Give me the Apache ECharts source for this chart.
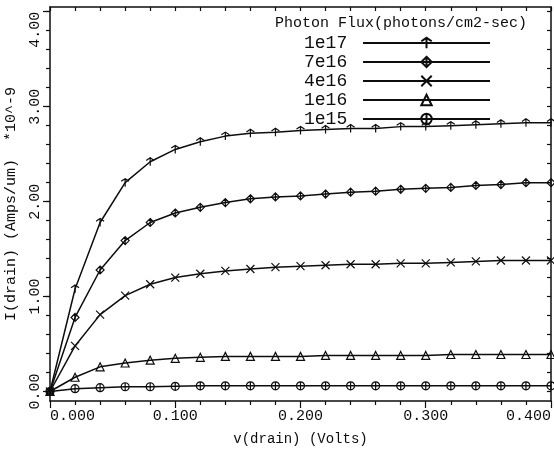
<!DOCTYPE html>
<html>
<head>
<meta charset="utf-8">
<script src="https://cdn.jsdelivr.net/npm/echarts@6/dist/echarts.min.js"></script>
<style>
html,body{margin:0;padding:0;background:#fff;}
#chart{width:554px;height:449px;}
</style>
</head>
<body>
<div id="chart"></div>
<script>
// ---- data ----
const vDrain = [0, 0.02, 0.04, 0.06, 0.08, 0.10, 0.12, 0.14, 0.16, 0.18, 0.20, 0.22, 0.24, 0.26, 0.28, 0.30, 0.32, 0.34, 0.36, 0.38, 0.40];
const seriesNames = ['1e17', '7e16', '4e16', '1e16', '1e15'];
const flux1e17 = [0, 1.08, 1.78, 2.20, 2.42, 2.55, 2.63, 2.69, 2.72, 2.73, 2.75, 2.76, 2.77, 2.77, 2.79, 2.79, 2.80, 2.81, 2.82, 2.83, 2.83];
const flux7e16 = [0, 0.78, 1.28, 1.59, 1.78, 1.88, 1.94, 1.99, 2.03, 2.05, 2.06, 2.08, 2.10, 2.11, 2.13, 2.14, 2.15, 2.17, 2.18, 2.20, 2.20];
const flux4e16 = [0, 0.48, 0.81, 1.01, 1.13, 1.20, 1.24, 1.27, 1.29, 1.31, 1.32, 1.33, 1.34, 1.34, 1.35, 1.35, 1.36, 1.37, 1.38, 1.38, 1.38];
const flux1e16 = [0, 0.15, 0.26, 0.30, 0.33, 0.35, 0.36, 0.37, 0.37, 0.37, 0.37, 0.38, 0.38, 0.38, 0.38, 0.38, 0.39, 0.39, 0.39, 0.39, 0.39];
const flux1e15 = [0, 0.03, 0.04, 0.05, 0.05, 0.055, 0.06, 0.06, 0.06, 0.06, 0.06, 0.06, 0.06, 0.06, 0.06, 0.06, 0.06, 0.06, 0.06, 0.06, 0.06];
const yMajorTicks = [0, 1, 2, 3, 4];
const yMinorTicks = [0, 0.2, 0.4, 0.6, 0.8, 1.0, 1.2, 1.4, 1.6, 1.8, 2.0, 2.2, 2.4, 2.6, 2.8, 3.0, 3.2, 3.4, 3.6, 3.8, 4.0];
const xAxisName = 'v(drain) (Volts)';
const yAxisName = 'I(drain) (Amps/um)  *10^-9';
const legendTitle = 'Photon Flux(photons/cm2-sec)';

// ---- styling ----
const INK = '#0d0d0d';
const FONT = '"Liberation Mono", "DejaVu Sans Mono", monospace';
const symbols = [
  'path://M5,12 L5,0 M1.5,4 L5,0 L8.5,4',
  'path://M5,0 L10,5 L5,10 L0,5 Z M5,0 L5,10',
  'path://M0,0 L10,10 M10,0 L0,10',
  'path://M5,0 L10,9 L0,9 Z',
  'path://M0,5 A5,5 0 1,1 10,5 A5,5 0 1,1 0,5 Z M5,0 L5,10'
];
const values = [flux1e17, flux7e16, flux4e16, flux1e16, flux1e15];

const series = seriesNames.map((name, i) => ({
  name: name,
  type: 'line',
  xAxisIndex: 0,
  yAxisIndex: 0,
  data: vDrain.map((v, k) => [v, values[i][k]]),
  symbol: symbols[i],
  symbolSize: 8,
  showAllSymbol: true,
  animation: false,
  lineStyle: { color: INK, width: 1.5 },
  itemStyle: { color: 'rgba(0,0,0,0)', borderColor: INK, borderWidth: 1.2 },
  emphasis: { disabled: true }
}));

const chart = echarts.init(document.getElementById('chart'), null, { renderer: 'canvas' });
chart.setOption({
  backgroundColor: '#ffffff',
  animation: false,
  title: {
    text: legendTitle,
    left: 275, top: 16, padding: 0,
    textStyle: { fontFamily: FONT, fontSize: 15, fontWeight: 'normal', color: INK }
  },
  legend: {
    data: seriesNames,
    orient: 'vertical',
    left: 304, top: 34, padding: 0,
    align: 'right',
    itemWidth: 127, itemHeight: 13, itemGap: 1,
    selectedMode: false,
    formatter: n => n + ' ',
    textStyle: { fontFamily: FONT, fontSize: 18, lineHeight: 18, color: INK }
  },
  grid: { left: 50, right: 3, top: 7, bottom: 48, outerBoundsMode: 'none', containLabel: false },
  xAxis: [
    {
      type: 'value', position: 'bottom', min: 0, max: 0.4, interval: 0.1,
      name: xAxisName, nameLocation: 'middle', nameGap: 31,
      nameTextStyle: { fontFamily: FONT, fontSize: 14, color: INK },
      axisLine: { show: true, onZero: false, lineStyle: { color: INK, width: 1.5 } },
      axisTick: { show: true, inside: false, length: 7, lineStyle: { color: INK, width: 1.2 } },
      minorTick: { show: true, splitNumber: 5, length: 4, lineStyle: { color: INK, width: 1.2 } },
      splitLine: { show: false },
      axisLabel: {
        formatter: v => v.toFixed(3), margin: 8,
        fontFamily: FONT, fontSize: 15, color: INK,
        alignMinLabel: 'left', alignMaxLabel: 'right'
      }
    },
    {
      type: 'value', position: 'top', min: 0, max: 0.4, interval: 0.02,
      axisLine: { show: true, onZero: false, lineStyle: { color: INK, width: 1.5 } },
      axisTick: { show: true, inside: true, length: 4, lineStyle: { color: INK, width: 1.2 } },
      splitLine: { show: false },
      axisLabel: { show: false }
    }
  ],
  yAxis: [
    {
      type: 'value', position: 'left', min: -0.1, max: 4.05,
      name: yAxisName, nameLocation: 'middle', nameGap: 31, nameRotate: 90,
      nameTextStyle: { fontFamily: FONT, fontSize: 15, color: INK },
      axisLine: { show: true, onZero: false, lineStyle: { color: INK, width: 1.5 } },
      axisTick: { show: true, inside: false, length: 4, customValues: yMinorTicks, lineStyle: { color: INK, width: 1.2 } },
      splitLine: { show: false },
      axisLabel: {
        customValues: yMajorTicks, rotate: 90, margin: 7,
        formatter: v => Number(v).toFixed(2),
        fontFamily: FONT, fontSize: 15, color: INK,
        alignMaxLabel: 'right'
      }
    },
    {
      type: 'value', position: 'left', min: -0.1, max: 4.05,
      axisLine: { show: false },
      axisTick: { show: true, inside: false, length: 7, customValues: yMajorTicks, lineStyle: { color: INK, width: 1.2 } },
      splitLine: { show: false },
      axisLabel: { show: false }
    },
    {
      type: 'value', position: 'right', min: -0.1, max: 4.05,
      axisLine: { show: true, onZero: false, lineStyle: { color: INK, width: 1.5 } },
      axisTick: { show: true, inside: true, length: 4, customValues: yMinorTicks, lineStyle: { color: INK, width: 1.2 } },
      splitLine: { show: false },
      axisLabel: { show: false }
    }
  ],
  series: series
});
</script>
</body>
</html>
